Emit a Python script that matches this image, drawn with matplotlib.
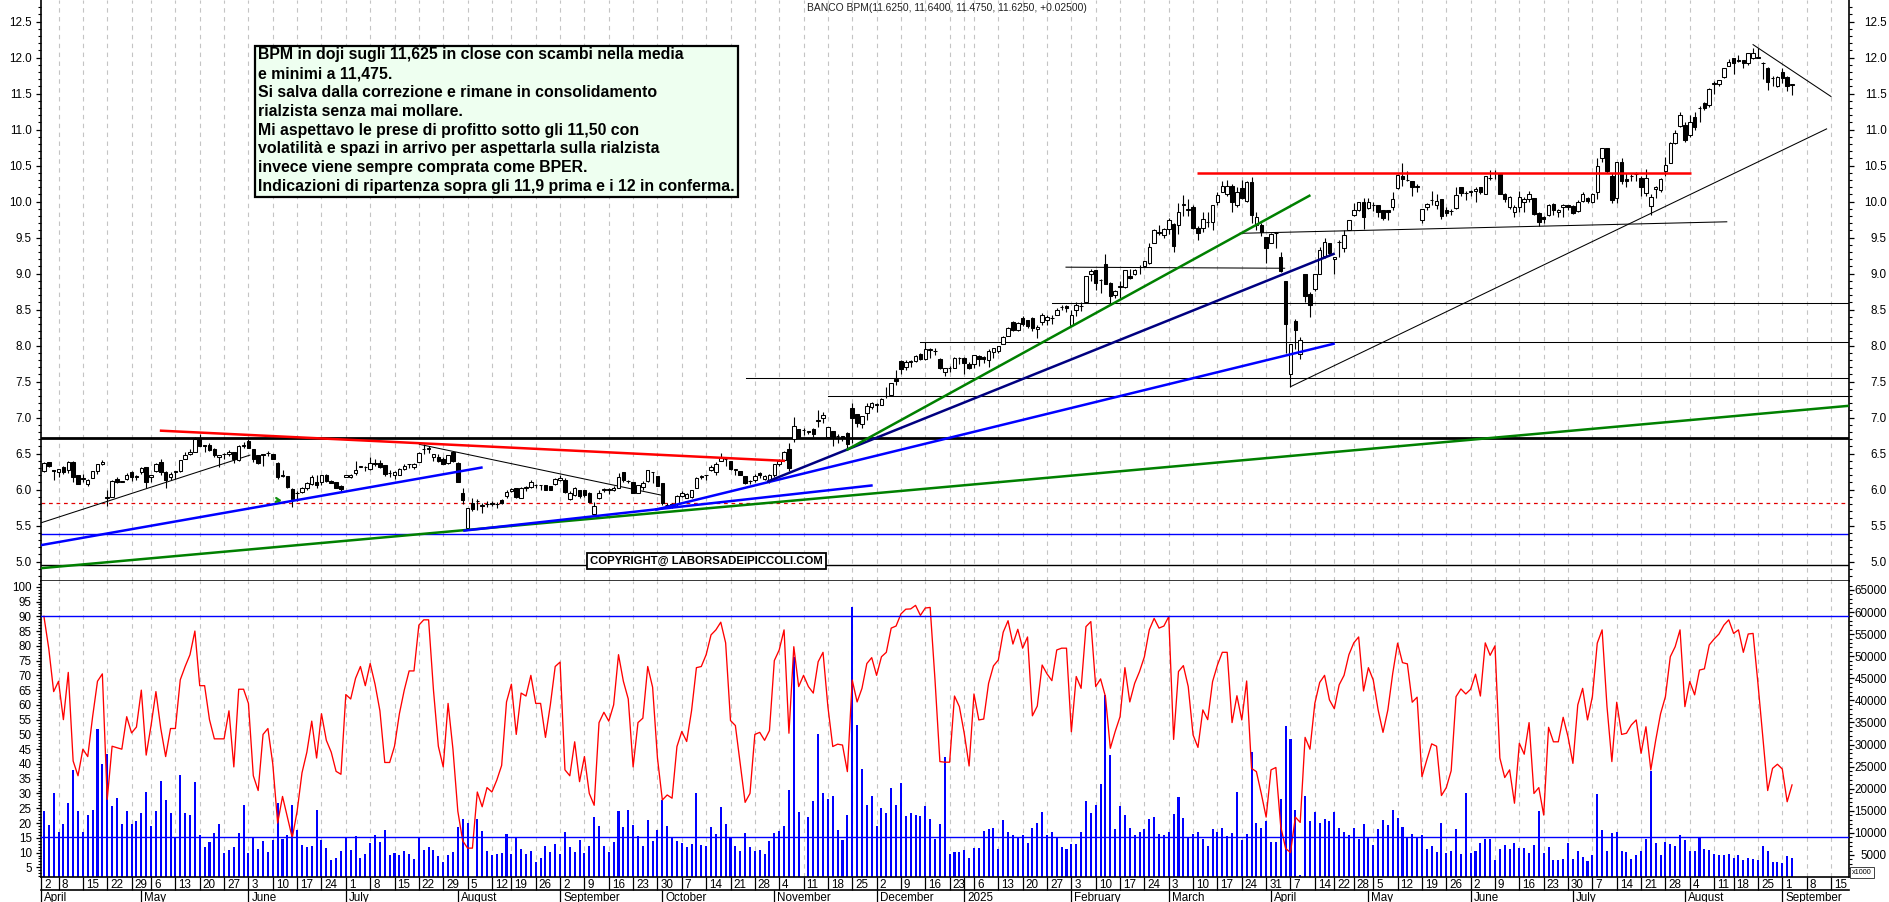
import matplotlib
matplotlib.use("Agg")
import matplotlib.pyplot as plt
from matplotlib.patches import Rectangle
from matplotlib.transforms import ScaledTranslation
from matplotlib.ticker import FixedLocator

plt.rcParams['font.family'] = ['Liberation Sans', 'DejaVu Sans']

# ---------- candles ----------
opens = [6.26,6.38,6.27,6.25,6.31,6.28,6.39,6.20,6.16,6.08,
6.16,6.26,6.35,5.89,5.90,6.15,6.11,6.15,6.24,6.19,
6.24,6.31,6.18,6.26,6.38,6.25,6.17,6.25,6.26,6.42,
6.49,6.53,6.71,6.62,6.62,6.56,6.45,6.49,6.50,6.52,
6.41,6.61,6.68,6.56,6.48,6.49,6.51,6.49,6.37,6.20,
6.19,6.01,5.95,5.97,6.03,6.08,6.11,6.10,6.21,6.12,
6.10,6.05,6.18,6.18,6.23,6.32,6.32,6.29,6.37,6.37,
6.34,6.23,6.20,6.21,6.29,6.35,6.31,6.39,6.56,6.57,
6.46,6.46,6.43,6.37,6.52,6.37,5.95,5.47,5.81,5.84,
5.78,5.80,5.81,5.80,5.86,5.91,5.98,6.03,5.89,6.03,
6.04,6.06,6.06,6.06,6.05,6.08,6.13,6.13,5.87,5.93,
5.99,5.99,5.95,5.66,5.89,6.00,6.00,6.00,6.03,6.24,
6.12,6.11,5.96,6.04,6.12,6.24,6.19,6.09,5.79,5.80,
5.80,5.91,5.89,5.90,6.03,6.18,6.20,6.28,6.25,6.40,
6.42,6.40,6.28,6.26,6.19,6.12,6.14,6.23,6.15,6.13,
6.20,6.35,6.41,6.57,6.71,6.84,6.83,6.80,6.84,6.96,
7.00,6.73,6.82,6.74,6.74,6.79,7.14,7.05,6.91,7.07,
7.15,7.18,7.18,7.30,7.31,7.54,7.79,7.70,7.78,7.79,
7.88,7.81,7.94,7.92,7.82,7.64,7.69,7.69,7.83,7.83,
7.75,7.75,7.86,7.84,7.80,7.91,7.93,8.03,8.13,8.33,
8.22,8.38,8.36,8.38,8.23,8.33,8.35,8.38,8.43,8.54,
8.55,8.29,8.49,8.55,8.61,9.00,9.05,8.91,9.13,8.87,
8.70,8.82,8.81,8.97,8.99,9.09,9.11,9.15,9.43,9.57,
9.54,9.62,9.69,9.68,9.96,9.89,9.92,9.64,9.64,9.72,
9.72,9.99,10.14,10.11,10.22,9.95,10.19,10.01,10.27,9.68,
9.68,9.51,9.42,9.56,9.23,8.90,7.60,8.34,7.89,9.00,
8.72,8.78,9.00,9.25,9.42,9.20,9.44,9.35,9.60,9.82,
9.88,9.99,9.91,9.95,9.95,9.88,9.88,9.92,10.19,10.36,
10.30,10.29,10.21,9.75,9.92,10.02,9.96,10.03,9.89,9.87,
9.91,10.20,10.12,10.14,10.15,10.20,10.11,10.33,10.40,10.39,
10.11,9.92,9.86,9.93,10.00,10.04,10.05,9.84,9.78,9.82,
9.97,9.85,9.92,9.95,9.94,9.87,10.01,10.05,10.00,10.13,
10.60,10.74,10.36,10.05,10.55,10.31,10.35,10.38,10.33,10.12,
9.94,10.17,10.16,10.43,10.54,10.81,11.05,11.07,10.93,11.18,
11.30,11.37,11.34,11.64,11.64,11.73,11.89,11.99,11.96,11.96,
11.92,11.99,12.00,11.92,11.85,11.71,11.60,11.80,11.73,11.625]

closes = [6.37,6.33,6.26,6.29,6.24,6.39,6.17,6.08,6.15,6.13,
6.26,6.35,6.39,5.89,6.12,6.11,6.11,6.21,6.17,6.18,
6.30,6.11,6.21,6.35,6.24,6.14,6.22,6.25,6.41,6.48,
6.53,6.71,6.61,6.61,6.55,6.48,6.48,6.50,6.53,6.42,
6.60,6.61,6.58,6.43,6.37,6.48,6.51,6.43,6.17,6.19,
6.04,5.87,5.95,6.03,6.09,6.18,6.07,6.20,6.12,6.09,
6.03,6.01,6.21,6.20,6.28,6.32,6.31,6.37,6.36,6.31,
6.22,6.23,6.25,6.29,6.33,6.35,6.35,6.51,6.56,6.57,
6.49,6.40,6.36,6.48,6.40,6.10,5.85,5.74,5.73,5.84,
5.78,5.80,5.80,5.80,5.81,5.97,6.01,5.90,6.03,6.03,
6.10,6.06,6.06,6.00,6.00,6.15,6.16,5.97,5.96,6.02,
5.91,5.93,5.83,5.78,5.96,6.00,6.00,6.02,6.18,6.14,
6.12,5.96,6.06,6.09,6.27,6.24,6.05,5.81,5.79,5.77,
5.91,5.96,5.94,6.00,6.16,6.18,6.20,6.32,6.36,6.44,
6.42,6.29,6.28,6.20,6.09,6.12,6.19,6.20,6.19,6.21,
6.35,6.40,6.52,6.30,6.88,6.73,6.83,6.81,6.77,6.97,
7.04,6.87,6.73,6.75,6.72,6.64,7.00,6.93,7.02,7.16,
7.21,7.18,7.26,7.30,7.48,7.51,7.68,7.78,7.78,7.86,
7.82,7.95,7.96,7.92,7.69,7.69,7.69,7.83,7.83,7.76,
7.69,7.87,7.82,7.82,7.93,7.97,7.99,8.12,8.25,8.22,
8.32,8.30,8.27,8.24,8.26,8.42,8.40,8.38,8.50,8.53,
8.52,8.42,8.57,8.55,8.97,9.04,8.87,8.91,8.86,8.69,
8.76,8.82,9.05,8.94,9.05,9.09,9.17,9.37,9.60,9.57,
9.62,9.74,9.38,9.85,9.96,9.89,9.64,9.57,9.76,9.72,
9.95,10.09,10.22,10.22,10.00,10.14,10.05,10.27,9.82,9.79,
9.58,9.35,9.55,9.56,9.04,8.30,8.02,8.22,8.08,8.69,
8.56,8.99,9.33,9.44,9.28,9.23,9.44,9.53,9.74,9.88,
9.99,9.79,9.99,9.95,9.85,9.77,9.85,10.04,10.37,10.31,
10.30,10.21,10.21,9.90,9.97,10.02,10.01,9.80,9.84,9.87,
10.09,10.12,10.12,10.14,10.17,10.14,10.35,10.33,10.40,10.11,
10.04,10.06,9.92,10.06,10.03,10.11,9.83,9.72,9.76,9.96,
9.89,9.88,9.96,9.92,9.84,10.00,10.10,10.01,10.11,10.50,
10.74,10.42,10.02,10.55,10.28,10.28,10.35,10.38,10.21,10.33,
10.07,10.20,10.32,10.51,10.81,10.95,11.20,10.86,11.11,11.03,
11.30,11.30,11.57,11.64,11.69,11.85,11.94,11.92,11.95,11.92,
12.06,12.07,12.00,11.92,11.66,11.71,11.73,11.72,11.60,11.625]

highs = [6.38,6.38,6.27,6.29,6.33,6.40,6.40,6.20,6.22,6.15,
6.26,6.35,6.41,6.00,6.14,6.18,6.12,6.23,6.26,6.21,
6.32,6.31,6.21,6.37,6.43,6.26,6.24,6.25,6.41,6.52,
6.56,6.73,6.78,6.62,6.65,6.58,6.48,6.51,6.55,6.52,
6.62,6.66,6.70,6.57,6.48,6.49,6.54,6.49,6.38,6.27,
6.19,6.03,5.98,6.04,6.10,6.20,6.20,6.21,6.22,6.14,
6.11,6.06,6.21,6.22,6.40,6.32,6.33,6.46,6.43,6.41,
6.34,6.27,6.26,6.30,6.35,6.36,6.37,6.52,6.63,6.60,
6.50,6.50,6.46,6.48,6.52,6.38,6.03,5.75,5.89,5.87,
5.82,5.84,5.84,5.83,5.87,5.99,6.03,6.03,6.04,6.05,
6.13,6.08,6.06,6.06,6.05,6.16,6.20,6.16,5.98,6.04,
6.00,6.00,5.97,5.83,5.99,6.03,6.03,6.05,6.23,6.25,
6.14,6.11,6.07,6.12,6.28,6.24,6.19,6.09,5.81,5.82,
5.92,5.98,5.96,6.00,6.17,6.20,6.20,6.34,6.38,6.51,
6.42,6.40,6.28,6.26,6.19,6.14,6.22,6.25,6.21,6.22,
6.36,6.42,6.54,6.65,7.01,6.84,6.85,6.82,6.86,7.10,
7.08,6.87,6.82,6.77,6.75,6.80,7.20,7.05,7.03,7.20,
7.22,7.20,7.28,7.43,7.48,7.66,7.80,7.80,7.80,7.87,
7.90,8.05,7.97,7.97,7.83,7.69,7.72,7.84,7.84,7.84,
7.78,7.87,7.87,7.86,7.95,7.97,8.00,8.13,8.26,8.34,
8.33,8.41,8.36,8.40,8.28,8.46,8.43,8.42,8.52,8.57,
8.57,8.49,8.60,8.60,8.97,9.06,9.05,8.93,9.27,8.88,
8.77,8.90,9.05,9.07,9.07,9.12,9.18,9.42,9.62,9.67,
9.63,9.77,9.70,9.98,10.09,10.03,9.95,9.66,9.85,9.85,
9.96,10.14,10.28,10.30,10.25,10.20,10.30,10.28,10.34,9.85,
9.70,9.51,9.56,9.56,9.30,8.90,8.03,8.37,8.12,9.00,
8.74,8.99,9.37,9.50,9.42,9.23,9.47,9.60,9.75,9.98,
10.00,10.05,10.05,10.00,9.95,9.89,9.89,10.13,10.38,10.53,
10.43,10.29,10.25,9.90,9.98,10.15,10.10,10.04,9.92,9.90,
10.20,10.20,10.15,10.16,10.20,10.21,10.36,10.44,10.44,10.40,
10.12,10.08,9.95,10.15,10.06,10.15,10.05,9.85,9.80,9.97,
9.98,9.90,9.97,9.96,9.95,10.02,10.13,10.07,10.12,10.60,
10.74,10.74,10.40,10.55,10.60,10.40,10.38,10.41,10.35,10.45,
10.10,10.22,10.33,10.62,10.83,11.00,11.24,11.10,11.20,11.25,
11.33,11.38,11.58,11.68,11.69,11.86,11.98,12.00,12.03,11.97,
12.07,12.14,12.14,11.94,11.87,11.75,11.74,11.86,11.74,11.64]

lows = [6.24,6.32,6.14,6.18,6.22,6.23,6.11,6.08,6.10,6.05,
6.16,6.22,6.34,5.78,5.90,6.09,6.11,6.13,6.12,6.14,
6.22,6.02,6.11,6.25,6.20,6.02,6.13,6.15,6.25,6.42,
6.48,6.53,6.61,6.52,6.54,6.46,6.31,6.43,6.47,6.37,
6.40,6.58,6.58,6.39,6.36,6.33,6.47,6.43,6.15,6.18,
6.02,5.76,5.84,5.96,6.00,6.07,6.02,6.06,6.10,6.09,
6.02,5.97,6.17,6.16,6.21,6.32,6.26,6.27,6.33,6.30,
6.19,6.18,6.15,6.20,6.28,6.30,6.29,6.39,6.50,6.51,
6.40,6.39,6.35,6.35,6.38,6.10,5.80,5.44,5.70,5.72,
5.67,5.76,5.77,5.75,5.80,5.89,5.97,5.89,5.88,5.98,
6.03,6.03,5.99,6.00,5.99,6.07,6.12,5.96,5.86,5.91,
5.89,5.90,5.83,5.63,5.87,5.97,5.94,5.98,6.02,6.10,
6.09,5.95,5.95,6.00,6.10,6.09,6.05,5.79,5.75,5.75,
5.78,5.90,5.88,5.88,6.02,6.15,6.14,6.26,6.20,6.40,
6.33,6.28,6.20,6.20,6.08,6.08,6.11,6.16,6.13,6.09,
6.18,6.33,6.40,6.26,6.66,6.72,6.76,6.77,6.73,6.87,
6.93,6.72,6.60,6.65,6.68,6.55,6.65,6.87,6.85,6.97,
7.12,7.08,7.17,7.28,7.30,7.46,7.60,7.66,7.70,7.78,
7.80,7.80,7.83,7.87,7.68,7.58,7.63,7.69,7.75,7.60,
7.68,7.69,7.72,7.76,7.70,7.83,7.90,8.02,8.13,8.20,
8.20,8.27,8.25,8.20,8.11,8.28,8.29,8.30,8.42,8.49,
8.47,8.27,8.41,8.48,8.60,8.90,8.77,8.73,8.85,8.59,
8.66,8.66,8.80,8.93,8.98,9.00,9.10,9.14,9.42,9.54,
9.50,9.55,9.30,9.55,9.80,9.80,9.62,9.47,9.58,9.65,
9.60,9.96,10.14,10.08,9.86,9.93,10.03,10.00,9.70,9.60,
9.52,9.15,9.42,9.35,9.02,7.90,7.43,7.95,7.82,8.60,
8.40,8.76,8.99,9.22,9.25,8.99,9.23,9.30,9.60,9.80,
9.87,9.62,9.90,9.87,9.78,9.75,9.75,9.88,10.18,10.22,
10.29,10.08,10.14,9.70,9.88,9.96,9.90,9.76,9.80,9.82,
9.90,10.08,10.02,10.08,10.00,10.10,10.10,10.30,10.32,10.10,
10.00,9.90,9.78,9.85,9.85,10.00,9.82,9.66,9.70,9.80,
9.82,9.78,9.78,9.88,9.83,9.86,10.00,9.98,9.98,10.03,
10.55,10.40,9.98,9.98,10.25,10.20,10.28,10.28,10.08,10.08,
9.82,10.05,10.13,10.36,10.53,10.80,11.04,10.83,10.90,11.00,
11.10,11.27,11.32,11.50,11.60,11.72,11.88,11.77,11.94,11.86,
11.90,11.98,12.00,11.70,11.55,11.60,11.59,11.65,11.54,11.475]

# ---------- oscillator (left scale) ----------
oscillator = [90,79,64.5,68,55,71,41,36,45,42.5,
56,68,70.5,28,46,45.5,45,56,50.5,52.5,
65,43,53,64.5,52,42.5,52,52,68.5,73,
77,85,66.5,66.5,55,48.5,48.5,48.5,58,39,
65.3,65.3,60.5,36,31,50,52,40,20,29,
22,15,24,37,44,54.5,42,57,48,44,
37.5,36.5,63.5,62,69,73,66.5,74,67,58,
40.5,40.5,46,57,65,71.5,71.5,87,88.8,88.8,
65,46,39,60.5,45,24,14,11.5,11.5,30.5,
25.5,32,30.5,34.5,39.5,61,67,50,64,63,
70,60.5,60.5,49,60,73,74.5,38,36,47.5,
34,42.5,30,26,54,57.5,54.5,60,77,68,
62,39,54,55.5,73,66,42,27.8,29.5,28.4,
45.9,51,47.6,58,72.6,73,77,83.7,85.4,88,
81,54.7,53,40,27,30,50,50.7,48,51.3,
75,78.6,85.4,50.4,79.7,66.2,70,66.2,64,74.6,
77.8,59.4,45.9,46.7,46.4,37.4,68.4,61,65.6,74,
76,70,76.3,77.8,86,86.7,90.8,92.4,92.5,93.7,
90.3,92.8,93,68.4,40.8,40.6,40.6,63,59.4,50.4,
39.3,63.7,54.9,55.2,67.3,73.2,75.2,84.6,88.5,80.6,
85.6,79.2,83,56.3,59.6,73.5,70.5,68.2,78.6,79.2,
79.2,50.9,69.6,65.6,86.5,88.2,66.2,68.8,62.8,45.3,
51,56,72.6,61,67.3,71.3,76.3,85.4,89.3,86,
86.7,89.9,48.3,71.3,73.3,66.2,49.8,45.6,58.3,55,
67.9,73.5,77.8,77.8,54,63.1,54.9,68.1,38.5,37.4,
30,22,38,38.8,18.8,11.4,10,22,20.2,49,
45,60.5,67.6,70,61.7,58.7,66.8,70,77,81,
83,64.7,72.6,68.4,58.3,50.7,58.3,70.7,80.9,74.3,
73.9,60.9,62.6,35.7,41.4,46.8,46,29.3,32,37.7,
62.8,65.4,63.7,65.3,70.4,63,81,76.8,80,42,
35.4,38,26.7,47,43.3,54,30,32,22.7,52.4,
47.5,47.5,55.8,49.2,40.2,60,65.6,54.9,62.8,80.9,
85.4,59.4,40.8,60.9,50,50.4,53.2,54.9,43.6,52.6,
38,48,57,62.8,76.3,79.7,85.4,59.4,67.9,63.4,
71.8,72.2,80.3,82.3,84,87,88.8,84.2,85.4,77.8,
84,84.2,67.3,49.3,31,38.5,39.9,38.3,27.2,32.9]

# ---------- volume, thousands (right scale) ----------
volume_k = [14.9,11.7,19.1,10.1,11.9,16.8,24.3,15,10.2,14.1,
15.1,33.5,25.5,27.8,16.1,17.8,11.9,15,12,12.6,
14.4,19.2,11.6,15,21.8,17.4,14.4,9,23.2,14.6,
14.1,21.4,9.4,6.9,8,9.9,11.9,5.4,6.1,6.7,
9.9,16.2,5.4,9,6.3,8.1,5.7,8.3,16.8,8.5,
9.6,16.2,10.6,7.2,6.8,7,15.1,8.3,6.5,3.8,
4.2,5.9,8.9,6.2,9.2,4.4,5.2,7.7,9.4,7.9,
10.6,5,5.5,4.9,5.9,5.3,4,8.9,6.2,6.7,
6.2,4.8,3.4,5,5.6,11.3,13.1,12.3,0,13.1,
10.5,5.9,4.9,5.1,5.4,9.7,5.2,8.8,6.3,5.2,
5.8,3.5,4.4,7.1,5.7,7.4,5.2,10.1,6.9,5.6,
8.3,5.4,7,13.6,11.5,7,5.7,8,15,11.4,
15.1,11.7,9.3,7,12.9,
8.1,10.6,17.4,11.6,8.9,8.1,7.8,6.7,7.4,19.1,
7.2,7,11.3,9.7,15.8,11.9,8.9,7,5.9,9.9,
6.7,6,6.2,5.3,8.1,9.9,10.4,11.5,19.6,49.9,
14.7,0,13.7,17.3,32.4,19,17.7,18.4,10.6,8.3,
14.1,61.2,34.5,24.4,16.2,18.3,11.6,15.7,14.6,20.2,
16.2,21.2,13.8,14.4,14.1,13.9,16,13.1,8.7,11.9,
27.1,5.3,5.6,5.6,6.2,4.3,6.5,6.5,10.4,10.8,
11,6.3,12.9,10.2,9.4,8.9,9.5,7.7,11.1,12.2,
14.8,9.5,10.1,8.8,6.8,6.3,7.4,7.4,10.2,17.1,
14.4,16.3,21.1,41.3,27.7,10.8,16,14.1,11.1,9.4,
10.2,10.8,13.2,13.7,9.7,9.4,10.2,14.2,18.2,13.3,
8.9,9.7,10.3,8.6,7,10.8,10.3,11.1,9.2,9.9,
19.2,8.3,9.7,28.3,12.2,11.1,12.7,8,8,17.6,
34.1,
31.3,15.1,0.5,18.3,12.6,14.7,12.2,13.1,12.6,14.7,
11.1,10.2,9.4,11,8.5,12,9,7.2,10.8,12.8,
11.7,15.1,13.3,11.3,9,9.7,9,9.5,6.3,7,
5.6,12.2,5.5,5.8,10.8,5.2,19,5.4,5.9,7.8,
8.5,8.7,3.8,6.3,7.2,6.3,7.8,6.5,6.5,5.4,
7.2,14.9,5.4,6.7,3.8,3.8,4,7.8,4.1,5.8,
4.5,3.6,5,18.7,10.6,5.9,9.9,10.1,5.8,5.6,
4,5,5.8,8.5,23.9,7.8,5,8,7.4,7,
9.4,8.3,5.9,5.8,8.8,6.3,6.1,5.2,5,5,
5.2,4.3,5,3.8,4.4,4.1,3.8,7.1,5.8,3.5,
3.5,3.2,4.7,4.3]

# ---------- date scale ----------
week_bars = [3,8,13,18,22,27,32,37,42,47,52,57,62,67,72,77,82,87,92,96,101,106,111,116,121,126,131,
136,141,146,151,156,161,166,171,176,181,186,189,191,196,201,206,211,216,221,226,231,236,241,246,251,
256,261,265,269,273,278,283,288,293,298,303,308,313,318,323,328,333,338,343,347,352,357,362,367]
week_labels = ["8","15","22","29","6","13","20","27","3","10","17","24","1","8","15","22","29","5","12",
"19","26","2","9","16","23","30","7","14","21","28","4","11","18","25","2","9","16","23","","6","13",
"20","27","3","10","17","24","3","10","17","24","31","7","14","22","28","5","12","19","26","2","9",
"16","23","30","7","14","21","28","4","11","18","25","1","8","15"]
month_bars = [-0.6,20,42,62,85,106,127,150,171,189,211,231,252,272,293,314,337,357]
month_labels = ["April","May","June","July","August","September","October","November","December","2025",
"February","March","April","May","June","July","August","September"]

# ---------- drawn levels and trend lines (bar index, price) ----------
full_levels = [(6.72,'black',2.0,'-'),(5.81,'#e00000',0.9,(0,(3,3))),(5.38,'#0000ff',1.0,'-'),(4.96,'black',1.0,'-')]
thin_segments = [
 ((-0.6,42.3),(5.54,6.48)),((77.1,127.1),(6.63,5.92)),((256,366.1),(7.43,11.01)),((351,367),(12.18,11.46)),
 ((161,370.7),(7.295,7.295)),((144.2,370.7),(7.547,7.547)),((179.9,370.7),(8.047,8.047)),
 ((207,370.7),(8.59,8.59)),((209.9,254.8),(9.09,9.075)),((245.6,345.6),(9.56,9.72))]
thick_segments = [
 ((-0.6,370.7),(4.91,7.165),'#008000'),((-0.6,90.1),(5.23,6.31),'#0000ff'),
 ((86.1,170.2),(5.43,6.06),'#0000ff'),((125.5,265.1),(5.72,8.03),'#0000ff'),
 ((148.5,265.1),(6.11,9.28),'#000080'),((164.8,260.1),(6.55,10.09),'#008000'),
 ((23.8,152.2),(6.82,6.40),'#ff0000'),((236.7,338.2),(10.40,10.40),'#ff0000')]

note_lines = ["BPM in doji sugli 11,625 in close con scambi nella media","e minimi a 11,475.",
"Si salva dalla correzione e rimane in consolidamento","rialzista senza mai mollare.",
"Mi aspettavo le prese di profitto sotto gli 11,50 con","volatilità e spazi in arrivo per aspettarla sulla rialzista",
"invece viene sempre comprata come BPER.","Indicazioni di ripartenza sopra gli 11,9 prima e i 12 in conferma."]

W, H = 1890, 902
fig = plt.figure(figsize=(W/100, H/100), dpi=100, facecolor='white')
X0, X1, PB, LB = 41, 1849, 581, 877
ax_p = fig.add_axes([X0/W, 1-PB/H, (X1-X0)/W, PB/H])
ax_v = fig.add_axes([X0/W, 1-LB/H, (X1-X0)/W, (LB-PB)/H])
ax_l = fig.add_axes([X0/W, 1-LB/H, (X1-X0)/W, (LB-PB)/H], sharex=ax_v)
ax_l.patch.set_visible(False)
ax_l.set_zorder(3); ax_v.set_zorder(2); ax_p.set_zorder(2)

XLIM = (-0.6, 370.7)
for a in (ax_p, ax_v, ax_l):
    a.set_xlim(*XLIM)
ax_p.set_ylim(4.732, 12.80)
ax_l.set_ylim(1.72, 101.95)
ax_v.set_ylim(0, 67.03)

grid = dict(color='#c4c4c4', lw=0.8, ls=(0,(4,4)), zorder=0)
for b in week_bars:
    ax_p.axvline(b, **grid)
    ax_v.axvline(b, **grid)

# candles
for i, (o, h, l, c) in enumerate(zip(opens, highs, lows, closes)):
    ax_p.plot([i, i], [l, h], color='black', lw=0.8, zorder=3, solid_capstyle='butt')
    ax_p.bar(i, abs(c-o) if c != o else 0.004, bottom=min(o, c), width=0.72,
             facecolor='black' if c < o else 'white', edgecolor='black', lw=0.75, zorder=4)

# levels and trend lines
for y, col, lw, ls in full_levels:
    ax_p.axhline(y, color=col, lw=lw, ls=ls, zorder=2)
for xs, ys in thin_segments:
    ax_p.plot(xs, ys, color='black', lw=0.75, zorder=2)
for xs, ys, col in thick_segments:
    ax_p.plot(xs, ys, color=col, lw=1.8, zorder=5, solid_capstyle='butt')
ax_p.annotate('', xy=(49.5, 5.84), xytext=(47.4, 5.86),
              arrowprops=dict(arrowstyle='->', color='#109010', lw=1.6, mutation_scale=7), zorder=6)

# lower panel
ax_v.bar(range(len(volume_k)), volume_k, width=0.42, color='#0000ff', lw=0, zorder=2)
ax_l.plot(range(len(oscillator)), oscillator, color='#ff0000', lw=0.95, zorder=3)
for y in (90, 15.4):
    ax_l.axhline(y, color='#0000ff', lw=1.0, zorder=4)

# axes cosmetics
for a in (ax_p, ax_v, ax_l):
    for s in a.spines.values():
        s.set_visible(False)
for a, side in ((ax_p, 'left'), (ax_p, 'right'), (ax_l, 'left'), (ax_l, 'right')):
    a.spines[side].set_visible(True); a.spines[side].set_linewidth(1.2)
ax_p.spines['bottom'].set_visible(True); ax_p.spines['bottom'].set_linewidth(1.1)
ax_l.spines['bottom'].set_visible(True); ax_l.spines['bottom'].set_linewidth(1.2)

LABEL = 8.4
MAJ, MIN, PAD = 3.6, 2.0, 3.0
right_shift = ScaledTranslation(28.8/100, 0, fig.dpi_scale_trans)

ax_p.tick_params(axis='x', bottom=False, labelbottom=False)
ax_p.set_yticks([5+0.5*k for k in range(16)])
ax_p.set_yticklabels([f"{5+0.5*k:.1f}" for k in range(16)])
ax_p.yaxis.set_minor_locator(FixedLocator([4.8+0.1*k for k in range(80)]))
ax_p.tick_params(axis='y', which='major', left=True, right=True, labelleft=True, labelright=True,
                 length=MAJ, width=0.9, labelsize=LABEL, pad=PAD)
ax_p.tick_params(axis='y', which='minor', left=True, right=True, length=MIN, width=0.8)
for t in ax_p.yaxis.get_major_ticks():
    t.label2.set_ha('right')
    t.label2.set_transform(t.label2.get_transform()+right_shift)

ax_l.set_yticks(list(range(5, 105, 5)))
ax_l.yaxis.set_minor_locator(FixedLocator(list(range(2, 102))))
ax_l.tick_params(axis='y', which='major', left=True, right=False, labelright=False, length=MAJ, width=0.9,
                 labelsize=LABEL, pad=PAD)
ax_l.tick_params(axis='y', which='minor', left=True, right=False, length=MIN, width=0.8)

ax_v.yaxis.tick_right()
ax_v.set_yticks(list(range(5, 70, 5)))
ax_v.set_yticklabels([str(v*1000) for v in range(5, 70, 5)])
ax_v.yaxis.set_minor_locator(FixedLocator(list(range(1, 67))))
ax_v.tick_params(axis='y', which='major', right=True, left=False, length=MAJ, width=0.9, labelsize=LABEL, pad=PAD)
ax_v.tick_params(axis='y', which='minor', right=True, left=False, length=MIN, width=0.8)
ax_v.tick_params(axis='x', bottom=False, labelbottom=False)
for t in ax_v.yaxis.get_major_ticks():
    t.label2.set_ha('right')
    t.label2.set_transform(t.label2.get_transform()+right_shift)

# day labels
shift = ScaledTranslation(3/100, 0, fig.dpi_scale_trans)
ax_l.set_xticks([-0.6]+week_bars)
ax_l.set_xticklabels(["2"]+week_labels, ha='left', fontsize=LABEL)
ax_l.tick_params(axis='x', length=9.4, width=0.9, pad=-8.2)
for t in ax_l.get_xticklabels():
    t.set_transform(t.get_transform()+shift)

# month labels
sec = ax_l.secondary_xaxis(-13/(LB-PB))
sec.set_xticks(month_bars)
sec.set_xticklabels(month_labels, ha='left', fontsize=LABEL)
sec.tick_params(axis='x', length=9, width=0.9, pad=-7.8)
sec.spines['bottom'].set_linewidth(1.2)
for t in sec.get_xticklabels():
    t.set_transform(t.get_transform()+shift)

# header
fig.text(947/W, 1-8/H, "BANCO BPM(11.6250, 11.6400, 11.4750, 11.6250, +0.02500)",
         ha='center', va='center', fontsize=7.35, color='#202020')

# note box
fig.add_artist(Rectangle((255.5/W, 1-197/H), 483/W, 151/H, transform=fig.transFigure,
                         facecolor='#eefff0', edgecolor='black', lw=1.6, zorder=10))
for k, line in enumerate(note_lines):
    fig.text(257.5/W, 1-(55+18.8*k)/H, line, ha='left', va='center', fontsize=11.45,
             fontweight='bold', color='black', zorder=11)

# copyright
fig.text(706.5/W, 1-561/H, "COPYRIGHT@ LABORSADEIPICCOLI.COM", ha='center', va='center', fontsize=8.2,
         fontweight='bold', zorder=11,
         bbox=dict(boxstyle='square,pad=0.25', facecolor='white', edgecolor='black', lw=1.3))

# multiplier tag
fig.text(1862/W, 1-872.5/H, "x1000", ha='center', va='center', fontsize=5.2, zorder=11,
         bbox=dict(boxstyle='square,pad=0.25', facecolor='white', edgecolor='#404040', lw=0.7))

fig.savefig('out.png', dpi=100)
